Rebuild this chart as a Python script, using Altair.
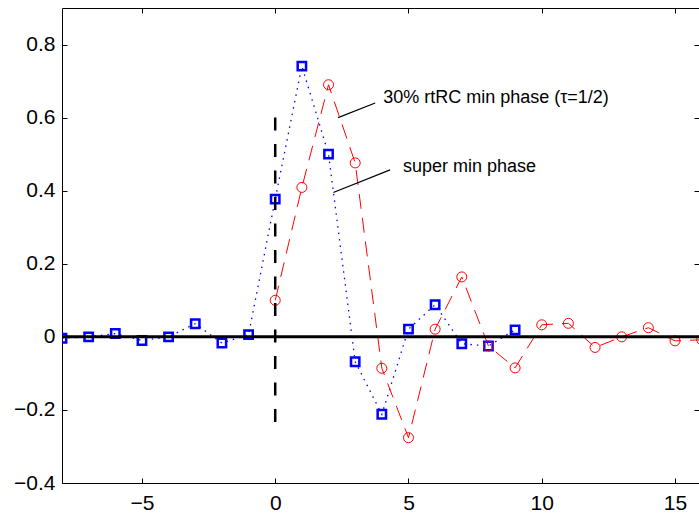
import altair as alt
import pandas as pd

# ---- data ----
x_super = list(range(-8, 10))
y_super = [-0.004, 0.000, 0.009, -0.010, 0.000, 0.036, -0.017, 0.006,
           0.377, 0.741, 0.500, -0.068, -0.212, 0.021, 0.088, -0.019, -0.025, 0.019]

x_rtrc = list(range(0, 17))
y_rtrc = [0.100, 0.409, 0.690, 0.476, -0.086, -0.276, 0.021, 0.164, -0.025,
          -0.085, 0.033, 0.037, -0.029, 0.000, 0.025, -0.011, -0.008]

vline_x = [0]
vline_y_top = [0.6]
vline_y_bot = [-0.25]

ann_text = ["30% rtRC min phase (\u03c4=1/2)", "super min phase"]
ann_tx = [4.05, 4.79]
ann_ty = [0.655, 0.465]
lead_x1 = [2.36, 2.18]
lead_y1 = [0.60, 0.395]
lead_x2 = [3.75, 4.31]
lead_y2 = [0.64, 0.457]

x_ticks = [-5, 0, 5, 10, 15]
y_ticks = [-0.4, -0.2, 0, 0.2, 0.4, 0.6, 0.8]
x_domain = [-8, 15.9]
y_domain = [-0.4, 0.9]

FONT = "Liberation Sans"

df_super = pd.DataFrame({"x": x_super, "y": y_super})
df_rtrc = pd.DataFrame({"x": x_rtrc, "y": y_rtrc})
df_zero = pd.DataFrame({"y": [0]})
df_vline = pd.DataFrame({"x": vline_x, "y1": vline_y_top, "y2": vline_y_bot})
df_ann = pd.DataFrame({"text": ann_text, "tx": ann_tx, "ty": ann_ty,
                       "x1": lead_x1, "y1": lead_y1, "x2": lead_x2, "y2": lead_y2})

xscale = alt.Scale(domain=x_domain, nice=False, zero=False)
yscale = alt.Scale(domain=y_domain, nice=False, zero=False)

common = dict(domain=False, grid=False, ticks=True, tickSize=5, tickColor="black",
              tickWidth=1, offset=-5, title=None, labelFont=FONT, labelFontSize=21,
              labelColor="black")

ax_bottom = alt.Axis(orient="bottom", values=x_ticks, format=".0f", labelPadding=9, **common)
ax_left = alt.Axis(orient="left", values=y_ticks, labelPadding=7,
                   labelExpr="datum.value == 0 ? '0' : format(datum.value, '.1f')", **common)
ax_top = alt.Axis(orient="top", values=x_ticks, labels=False, **common)
ax_right = alt.Axis(orient="right", values=y_ticks, labels=False, **common)

BLUE = "#0000ff"
RED = "#ff0000"

super_line = alt.Chart(df_super).mark_line(
    color=BLUE, strokeDash=[1.5, 5], strokeWidth=1.3, clip=True
).encode(x=alt.X("x:Q", scale=xscale, axis=ax_bottom),
         y=alt.Y("y:Q", scale=yscale, axis=ax_left))

rtrc_line = alt.Chart(df_rtrc).mark_line(
    color=RED, strokeDash=[15, 9], strokeWidth=1, clip=True
).encode(x=alt.X("x:Q", scale=xscale, axis=ax_top),
         y=alt.Y("y:Q", scale=yscale, axis=ax_right))

super_pts = alt.Chart(df_super).mark_point(
    shape="square", size=70, filled=False, color=BLUE, strokeWidth=2.5, opacity=1, clip=True
).encode(x=alt.X("x:Q", scale=xscale, axis=None),
         y=alt.Y("y:Q", scale=yscale, axis=None))

rtrc_pts = alt.Chart(df_rtrc).mark_point(
    shape="circle", size=100, filled=False, color=RED, strokeWidth=1, opacity=1, clip=True
).encode(x=alt.X("x:Q", scale=xscale, axis=None),
         y=alt.Y("y:Q", scale=yscale, axis=None))

zero_rule = alt.Chart(df_zero).mark_rule(color="black", strokeWidth=3).encode(
    y=alt.Y("y:Q", scale=yscale, axis=None))

vline = alt.Chart(df_vline).mark_rule(color="black", strokeWidth=2.5, strokeDash=[13, 13.5]).encode(
    x=alt.X("x:Q", scale=xscale, axis=None),
    y=alt.Y("y1:Q", scale=yscale, axis=None),
    y2="y2:Q")

leaders = alt.Chart(df_ann).mark_rule(color="black", strokeWidth=1.2).encode(
    x=alt.X("x1:Q", scale=xscale, axis=None),
    y=alt.Y("y1:Q", scale=yscale, axis=None),
    x2="x2:Q", y2="y2:Q")

labels = alt.Chart(df_ann).mark_text(
    align="left", baseline="middle", font=FONT, fontSize=18, color="black"
).encode(x=alt.X("tx:Q", scale=xscale, axis=None),
         y=alt.Y("ty:Q", scale=yscale, axis=None),
         text="text:N")

chart = alt.layer(
    super_line, rtrc_line, super_pts, rtrc_pts, zero_rule, vline, leaders, labels
).resolve_axis(x="independent", y="independent").properties(
    width=637, height=475,
    autosize=alt.AutoSizeParams(type="none"),
    padding={"left": 62, "top": 8, "right": 0, "bottom": 29},
).configure_view(stroke="black", strokeWidth=1)

chart.save("out.html", embed_options={"renderer": "svg", "actions": False})
